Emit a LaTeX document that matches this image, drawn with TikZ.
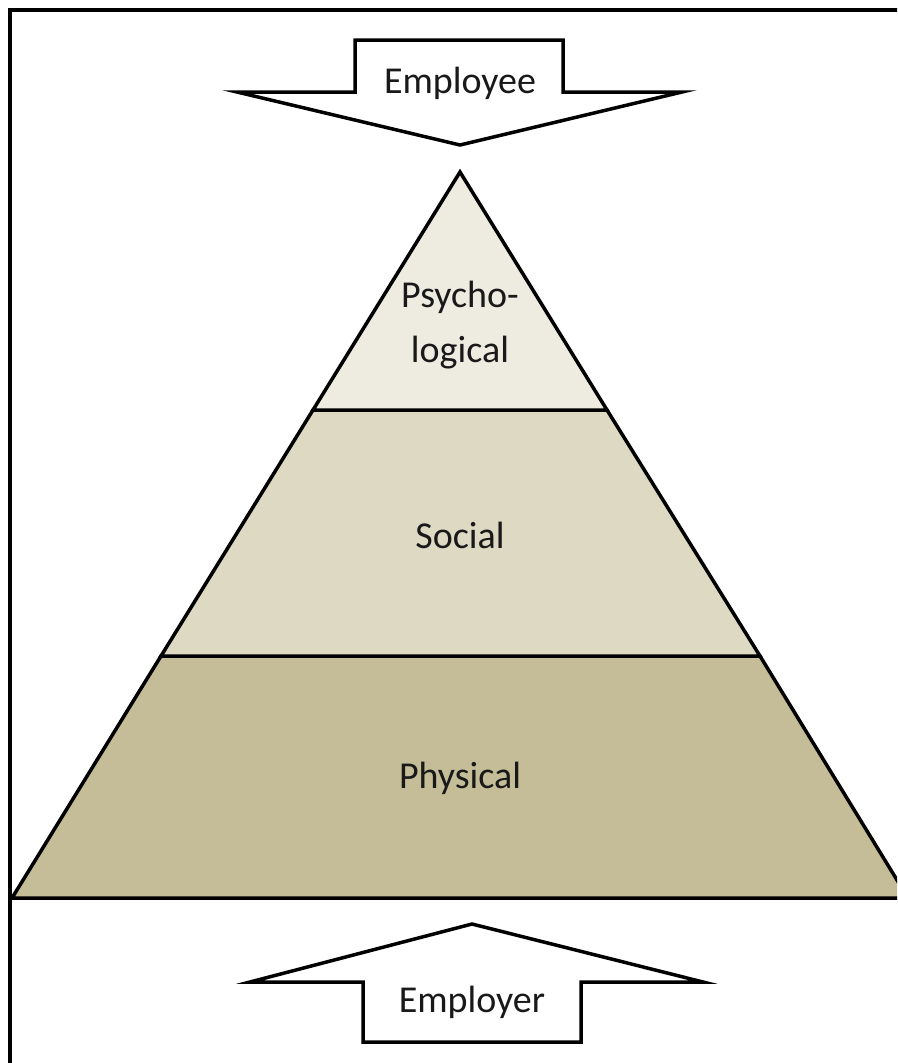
\documentclass[tikz,border=0pt]{standalone}
\usepackage{fontspec}
\setmainfont{Carlito}
\usepackage{tikz}

\definecolor{tierTop}{HTML}{EEECE1}
\definecolor{tierMid}{HTML}{DDD9C3}
\definecolor{tierBase}{HTML}{C4BD97}

\begin{document}
\begin{tikzpicture}[x=1pt,y=-1pt,
    tier/.style={draw=black,line width=3.5pt},
    bigarrow/.style={draw=black,fill=white,line width=3.5pt},
    tiertext/.style={font=\fontsize{38}{55}\selectfont,text=black!90,align=center,anchor=base,inner sep=0pt}]
  \clip (0,0) rectangle (897,1063);
  % frame
  \draw[line width=4pt] (10,1070) -- (10,9.5) -- (905,9.5);
  % pyramid tiers
  \coordinate (apex) at (460,172);
  \filldraw[tier,fill=tierBase] (161,656) -- (760,656) -- (908,898) -- (12,898) -- cycle;
  \filldraw[tier,fill=tierMid]  (313,410) -- (607,410) -- (760,656) -- (161,656) -- cycle;
  \filldraw[tier,fill=tierTop]  (apex) -- (607,410) -- (313,410) -- cycle;
  % arrows
  \filldraw[bigarrow] (355,40) -- (563,40) -- (563,92) -- (682,92) -- (460,145)
    -- (237,92) -- (355,92) -- cycle;
  \filldraw[bigarrow] (363,1042) -- (581,1042) -- (581,982) -- (703,982) -- (472,924)
    -- (250,982) -- (363,982) -- cycle;
  % labels
  \node[tiertext] (employee) at (460,93)   {Employee};
  \node[tiertext] (psych)    at (460,362)  {Psycho-\\logical};
  \node[tiertext] (social)   at (460,548)  {Social};
  \node[tiertext] (physical) at (460,788)  {Physical};
  \node[tiertext] (employer) at (472,1012) {Employer};
\end{tikzpicture}
\end{document}
